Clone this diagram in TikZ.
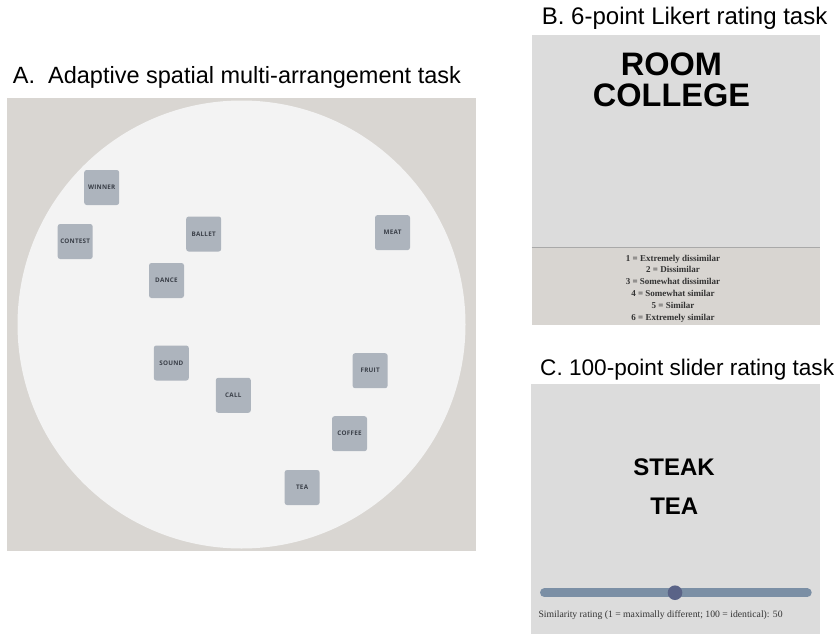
\documentclass[tikz,border=0pt]{standalone}
\usepackage{fontspec}
\setmainfont{Liberation Sans}
\newfontfamily\serifw{Liberation Serif}
\newfontfamily\tilefont[LetterSpace=4]{Open Sans}
\definecolor{panelA}{HTML}{D9D6D2}
\definecolor{circleC}{HTML}{F3F3F3}
\definecolor{tileC}{HTML}{ADB4BD}
\definecolor{tileT}{HTML}{3A3F48}
\definecolor{panelGray}{HTML}{DCDCDC}
\definecolor{panelBeige}{HTML}{D8D5D1}
\definecolor{dividerC}{HTML}{A9A9A9}
\definecolor{trackC}{HTML}{7B8FA5}
\definecolor{knobC}{HTML}{5A6387}
\definecolor{labelT}{HTML}{333333}
\begin{document}
\begin{tikzpicture}[x=1pt,y=-1pt,
  tile/.style={fill=tileC, rounded corners=2.5pt, minimum width=35pt, minimum height=35pt, inner sep=0pt,
    font=\tilefont\bfseries\fontsize{6.3}{7.5}\selectfont, text=tileT},
  paneltitle/.style={anchor=base west, inner sep=0pt, text=black},
  bigword/.style={font=\bfseries\fontsize{32.5}{36}\selectfont, inner sep=0pt, text=black},
  midword/.style={font=\bfseries\fontsize{24}{28}\selectfont, inner sep=0pt, text=black}]
\useasboundingbox (0,0) rectangle (840,634);
\fill[white] (0,0) rectangle (840,634);

% Panel A
\node[paneltitle, font=\fontsize{23.5}{28}\selectfont] (titleA) at (12.7,83.3) {A.\ \ Adaptive spatial multi-arrangement task};
\fill[panelA] (7,97.5) rectangle (476,550.7);
\fill[circleC] (241.5,324.5) circle (224pt);
\node[tile] (winner) at (101.7,187.5) {WINNER};
\node[tile] (contest) at (75.2,241.5) {CONTEST};
\node[tile] (ballet) at (203.7,234) {BALLET};
\node[tile] (meat) at (392.5,232.6) {MEAT};
\node[tile] (dance) at (166.5,280.5) {DANCE};
\node[tile] (sound) at (171.3,363) {SOUND};
\node[tile] (call) at (233.3,395.3) {CALL};
\node[tile] (fruit) at (370.1,370.7) {FRUIT};
\node[tile] (coffee) at (349.5,433.7) {COFFEE};
\node[tile] (tea) at (302.1,487.5) {TEA};

% Panel B
\node[paneltitle, font=\fontsize{24}{28}\selectfont] (titleB) at (541.7,25) {B. 6-point Likert rating task};
\fill[panelGray] (531.5,35) rectangle (820,247);
\fill[panelBeige] (531.5,247) rectangle (820,324.5);
\draw[dividerC, line width=1.6pt] (531.5,247.3) -- (820,247.3);
\node[bigword] (room) at (671.5,64.7) {ROOM};
\node[bigword] (college) at (671.5,95.5) {COLLEGE};
\node[align=center, inner sep=0pt, text=labelT, font=\serifw\bfseries\fontsize{9}{11.85}\selectfont] (likert) at (673,288.5)
  {1 = Extremely dissimilar\\2 = Dissimilar\\3 = Somewhat dissimilar\\4 = Somewhat similar\\5 = Similar\\6 = Extremely similar};

% Panel C
\node[paneltitle, font=\fontsize{22.6}{27}\selectfont] (titleC) at (540,375) {C. 100-point slider rating task};
\fill[panelGray] (531,383.5) rectangle (820,634);
\node[midword] (steak) at (674,467.5) {STEAK};
\node[midword] (teaC) at (674.3,506) {TEA};
\draw[trackC, line width=9pt, line cap=round] (544.5,592.7) -- (807.2,592.7);
\fill[knobC] (675,592.7) circle (7.3pt);
\node[anchor=west, inner sep=0pt, text=labelT, font=\serifw\fontsize{9.7}{11}\selectfont] (simtext) at (538.3,615)
  {Similarity rating (1 = maximally different; 100 = identical): 50};
\end{tikzpicture}
\end{document}
